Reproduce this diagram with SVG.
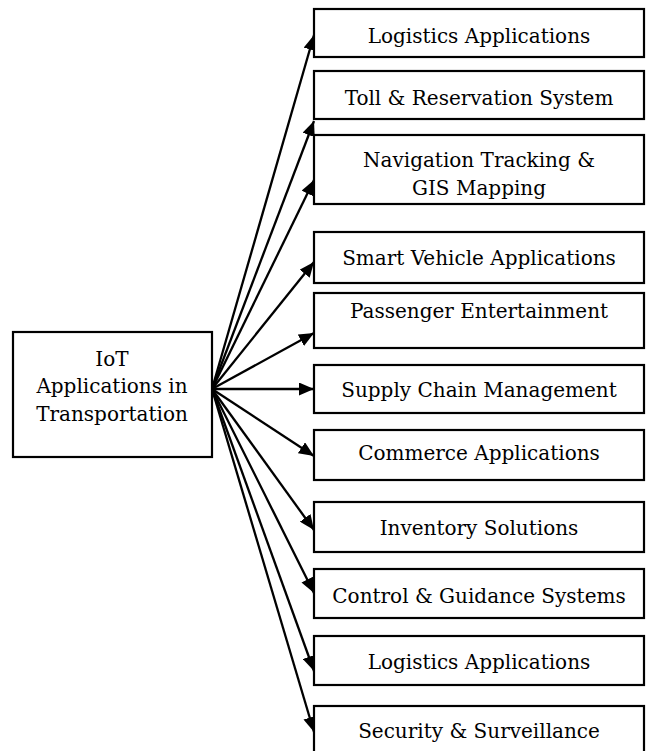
<svg xmlns="http://www.w3.org/2000/svg" width="647" height="751" viewBox="0 0 647 751">
<defs>
<style>
.box{fill:#fff;stroke:#000;stroke-width:2.2}
.lbl{font-family:"DejaVu Serif","Liberation Serif",serif;font-size:20px;fill:#000;text-anchor:middle}
.conn line{stroke:#000;stroke-width:2.3}
</style>
<marker id="ah" markerUnits="userSpaceOnUse" markerWidth="15" markerHeight="13" refX="15" refY="6.5" orient="auto">
<path d="M0,0 L15,6.5 L0,13 Z" fill="#000"/>
</marker>
</defs>
<rect width="647" height="751" fill="#fff"/>
<g class="conn">
<line x1="212" y1="389" x2="314" y2="35" marker-end="url(#ah)"/>
<line x1="212" y1="389" x2="314" y2="121" marker-end="url(#ah)"/>
<line x1="212" y1="389" x2="314" y2="180" marker-end="url(#ah)"/>
<line x1="212" y1="389" x2="314" y2="262" marker-end="url(#ah)"/>
<line x1="212" y1="389" x2="314" y2="333" marker-end="url(#ah)"/>
<line x1="212" y1="389" x2="314" y2="389" marker-end="url(#ah)"/>
<line x1="212" y1="389" x2="314" y2="456" marker-end="url(#ah)"/>
<line x1="212" y1="389" x2="314" y2="530" marker-end="url(#ah)"/>
<line x1="212" y1="389" x2="314" y2="593" marker-end="url(#ah)"/>
<line x1="212" y1="389" x2="314" y2="671" marker-end="url(#ah)"/>
<line x1="212" y1="389" x2="314" y2="732" marker-end="url(#ah)"/>
</g>
<g id="src"><rect class="box" x="13" y="332" width="199" height="125"/>
<text class="lbl" x="112" y="366">IoT</text>
<text class="lbl" x="112" y="393">Applications in</text>
<text class="lbl" x="112" y="421">Transportation</text></g>
<g id="n1"><rect class="box" x="314" y="9" width="330" height="48"/><text class="lbl" x="479" y="43">Logistics Applications</text></g>
<g id="n2"><rect class="box" x="314" y="71" width="330" height="48"/><text class="lbl" x="479" y="105">Toll &amp; Reservation System</text></g>
<g id="n3"><rect class="box" x="314" y="135" width="330" height="69"/><text class="lbl" x="479" y="167">Navigation Tracking &amp;</text><text class="lbl" x="479" y="195">GIS Mapping</text></g>
<g id="n4"><rect class="box" x="314" y="232" width="330" height="51"/><text class="lbl" x="479" y="265">Smart Vehicle Applications</text></g>
<g id="n5"><rect class="box" x="314" y="293" width="330" height="55"/><text class="lbl" x="479" y="318">Passenger Entertainment</text></g>
<g id="n6"><rect class="box" x="314" y="365" width="330" height="48"/><text class="lbl" x="479" y="397">Supply Chain Management</text></g>
<g id="n7"><rect class="box" x="314" y="430" width="330" height="50"/><text class="lbl" x="479" y="460">Commerce Applications</text></g>
<g id="n8"><rect class="box" x="314" y="502" width="330" height="50"/><text class="lbl" x="479" y="535">Inventory Solutions</text></g>
<g id="n9"><rect class="box" x="314" y="569" width="330" height="49"/><text class="lbl" x="479" y="603">Control &amp; Guidance Systems</text></g>
<g id="n10"><rect class="box" x="314" y="636" width="330" height="49"/><text class="lbl" x="479" y="669">Logistics Applications</text></g>
<g id="n11"><rect class="box" x="314" y="706" width="330" height="60"/><text class="lbl" x="479" y="738">Security &amp; Surveillance</text></g>
</svg>
